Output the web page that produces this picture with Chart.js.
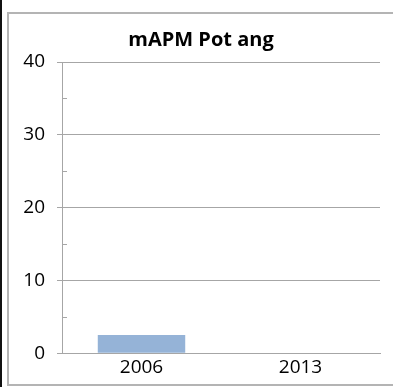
<!DOCTYPE html>
<html>
<head>
<meta charset="utf-8">
<script src="https://cdn.jsdelivr.net/npm/chart.js@4"></script>
<style>
  html, body { margin: 0; padding: 0; background: #fff; }
  #wrap { position: relative; width: 393px; height: 387px; overflow: hidden; }
  #frame { position: absolute; left: 7px; top: 12px; width: 400px; height: 370px; border: 2px solid #b4b4b4; pointer-events: none; }
  #edge { position: absolute; left: 0; top: 0; width: 2px; height: 387px; background: #111; }
  canvas { position: absolute; left: 0; top: 0; }
</style>
</head>
<body>
<div id="wrap">
  <canvas id="chart" width="393" height="387"></canvas>
  <div id="frame"></div>
  <div id="edge"></div>
</div>
<script>
var years = ['2006', '2013'];
var potAng = [2.5, 0];
var yTicks = [0, 10, 20, 30, 40];
var minorTicks = [5, 15, 25, 35];

// small tick marks on the inside of the y axis, halfway between labels
var minorTickPlugin = {
    id: 'minorTicks',
    afterDraw: function(chart) {
        var y = chart.scales.y;
        var ctx = chart.ctx;
        ctx.save();
        ctx.strokeStyle = '#a6a6a6';
        ctx.lineWidth = 1;
        minorTicks.forEach(function(v) {
            var py = Math.round(y.getPixelForValue(v)) + 0.5;
            ctx.beginPath();
            ctx.moveTo(y.right, py);
            ctx.lineTo(y.right + 5, py);
            ctx.stroke();
        });
        ctx.restore();
    }
};

var ctx = document.getElementById('chart').getContext('2d');
new Chart(ctx, {
    type: 'bar',
    data: {
        labels: years,
        datasets: [{
            label: 'mAPM Pot ang',
            data: potAng,
            backgroundColor: '#95b3d7',
            borderWidth: 0,
            categoryPercentage: 0.55,
            barPercentage: 1
        }]
    },
    options: {
        responsive: false,
        animation: false,
        layout: { padding: { left: 22, right: 13, top: 0, bottom: 5 } },
        plugins: {
            legend: { display: false },
            tooltip: { enabled: false },
            title: {
                display: true,
                text: 'mAPM Pot ang',
                color: '#000',
                font: { family: 'Open Sans', size: 20, weight: 'bold', lineHeight: 1.2 },
                padding: { top: 28, bottom: 10 }
            }
        },
        scales: {
            x: {
                grid: { display: false, drawTicks: false },
                border: { color: '#a6a6a6', width: 1 },
                ticks: { color: '#000', font: { family: 'Open Sans', size: 19 }, padding: 3 }
            },
            y: {
                min: 0,
                max: 40,
                afterFit: function(scale) { scale.width = 40; },
                afterBuildTicks: function(scale) {
                    scale.ticks = yTicks.map(function(v) { return { value: v }; });
                },
                grid: { color: '#a6a6a6', tickLength: 5, drawTicks: true },
                border: { color: '#a6a6a6', width: 1 },
                ticks: { color: '#000', font: { family: 'Open Sans', size: 19 }, padding: 12 }
            }
        }
    },
    plugins: [minorTickPlugin]
});
</script>
</body>
</html>
